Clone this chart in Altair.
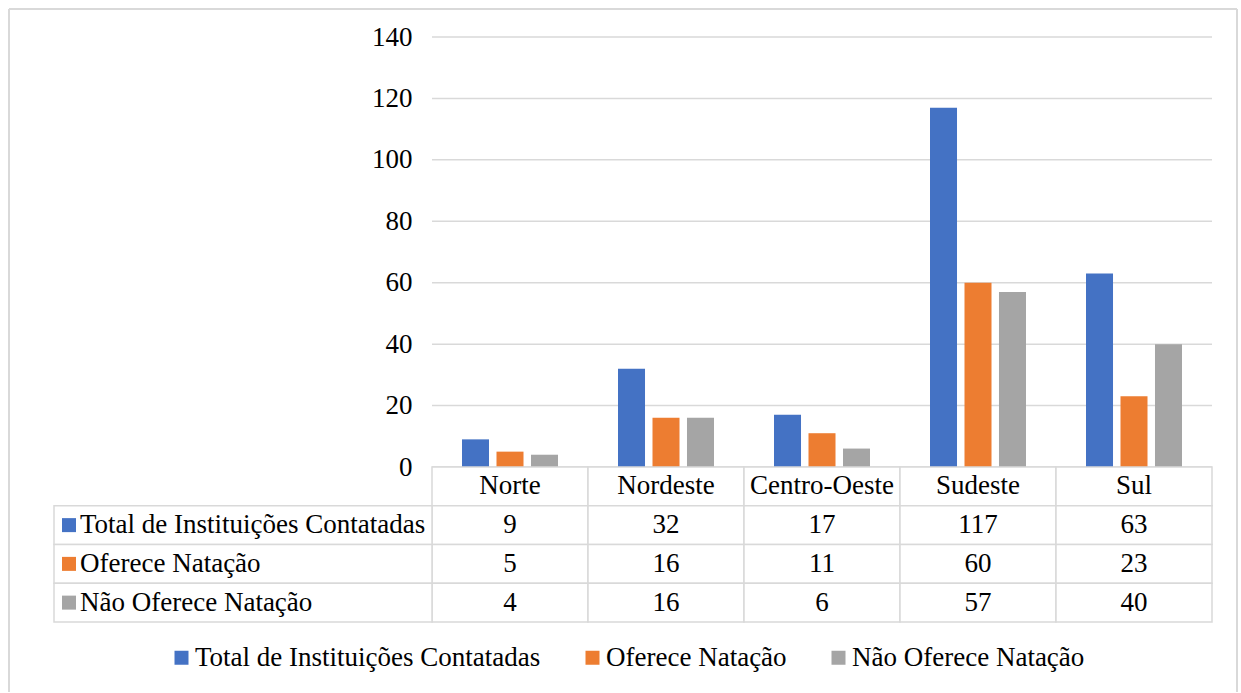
import altair as alt
import pandas as pd

regions = ["Norte", "Nordeste", "Centro-Oeste", "Sudeste", "Sul"]
series = ["Total de Instituições Contatadas", "Oferece Natação", "Não Oferece Natação"]
total = [9, 32, 17, 117, 63]
oferece = [5, 16, 11, 60, 23]
nao_oferece = [4, 16, 6, 57, 40]
y_ticks = [0, 20, 40, 60, 80, 100, 120, 140]
colors = ["#4472C4", "#ED7D31", "#A5A5A5"]

FONT = "Liberation Serif"
FS = 27
GRID = "#D9D9D9"

values_by_series = dict(zip(series, [total, oferece, nao_oferece]))
long = pd.DataFrame([
    {"region": r, "series": s, "value": v, "label": str(v)}
    for s in series for r, v in zip(regions, values_by_series[s])
])
header = pd.DataFrame({"region": regions, "row": ["header"] * len(regions), "label": regions})
body = long.rename(columns={"series": "row"})[["region", "row", "label"]]
cells = pd.concat([header, body], ignore_index=True)
row_labels = pd.DataFrame({"row": series, "series": series})
ticks = pd.DataFrame({"v": y_ticks})
rows_domain = ["header"] + series

x_scale = alt.Scale(domain=regions, range=[424, 1204], paddingInner=0, paddingOuter=0)
y_val = alt.Scale(domain=[0, 140], range=[459, 29], nice=False)
y_row = alt.Scale(domain=rows_domain, range=[459, 614], paddingInner=0, paddingOuter=0)
color_scale = alt.Scale(domain=series, range=colors)

legend = alt.Legend(
    orient="none", legendX=160, legendY=636, direction="horizontal", title=None,
    symbolType="square", symbolSize=196, symbolStrokeWidth=0,
    labelFont=FONT, labelFontSize=FS, labelColor="black", labelOffset=0,
    columnPadding=38, labelLimit=0, padding=0,
)

# chart frame (top, left, right edges; bottom edge lies just outside the window)
frame_top = alt.Chart(ticks).mark_rule(color=GRID, strokeWidth=1.5).encode(
    x=alt.value(1), x2=alt.value(1229), y=alt.value(1))
frame_left = alt.Chart(ticks).mark_rule(color=GRID, strokeWidth=1.5).encode(
    x=alt.value(1), y=alt.value(1), y2=alt.value(684))
frame_right = alt.Chart(ticks).mark_rule(color=GRID, strokeWidth=1.5).encode(
    x=alt.value(1229), y=alt.value(1), y2=alt.value(684))

grid = alt.Chart(ticks).mark_rule(color=GRID, strokeWidth=1.5).encode(
    y=alt.Y("v:Q", scale=y_val, axis=None),
    x=alt.value(424), x2=alt.value(1204),
)

bars = alt.Chart(long).mark_bar().encode(
    x=alt.X("region:N", scale=x_scale, axis=None),
    xOffset=alt.XOffset("series:N", scale=alt.Scale(domain=series, paddingInner=0.217, paddingOuter=0.87)),
    y=alt.Y("value:Q", scale=y_val, axis=alt.Axis(
        values=y_ticks, offset=-424, domain=False, ticks=False, tickSize=0, grid=False,
        labelFont=FONT, labelFontSize=FS, labelColor="black", labelPadding=20, title=None)),
    color=alt.Color("series:N", scale=color_scale, legend=legend),
)

cell_rect = alt.Chart(cells).mark_rect(fill="white", stroke=GRID, strokeWidth=1.5).encode(
    x=alt.X("region:N", scale=x_scale, axis=None),
    y=alt.Y("row:N", scale=y_row, axis=None),
)

label_rect = alt.Chart(row_labels).mark_rect(fill="white", stroke=GRID, strokeWidth=1.5).encode(
    x=alt.value(46), x2=alt.value(424),
    y=alt.Y("row:N", scale=y_row, axis=None),
)

cell_text = alt.Chart(cells).mark_text(font=FONT, fontSize=FS, color="black", baseline="middle").encode(
    x=alt.X("region:N", scale=x_scale, axis=None),
    y=alt.Y("row:N", scale=y_row, axis=None),
    text="label:N",
)

label_squares = alt.Chart(row_labels).mark_point(shape="square", filled=True, size=196, opacity=1).encode(
    x=alt.value(61),
    y=alt.Y("row:N", scale=y_row, axis=None),
    color=alt.Color("series:N", scale=color_scale, legend=legend),
)

label_text = alt.Chart(row_labels).mark_text(font=FONT, fontSize=FS, color="black", align="left", baseline="middle").encode(
    x=alt.value(72),
    y=alt.Y("row:N", scale=y_row, axis=None),
    text="row:N",
)

chart = alt.layer(
    frame_top, frame_left, frame_right,
    grid, bars, cell_rect, label_rect, cell_text, label_squares, label_text
).resolve_scale(y="independent").properties(
    width=1230, height=685,
    padding={"left": 8, "top": 8, "right": 3, "bottom": 0},
    background="white",
).configure_view(strokeWidth=0)

chart.save("out.html", embed_options={"renderer": "svg", "actions": False})
